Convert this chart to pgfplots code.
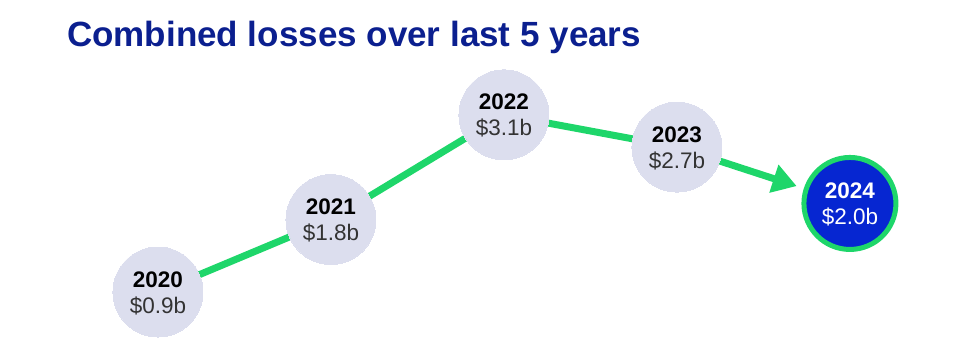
\documentclass[border=0pt]{standalone}
\usepackage{pgfplots}
\pgfplotsset{compat=1.18}
\usepackage{pgfplotstable}
\usepackage{fontspec}
\setmainfont{Liberation Sans}
\usetikzlibrary{arrows.meta}
\definecolor{titleblue}{HTML}{0B1F8F}
\definecolor{circfill}{HTML}{DCDEEE}
\definecolor{lgreen}{HTML}{1ED66A}
\definecolor{hiblue}{HTML}{0626D1}
\definecolor{valgray}{HTML}{333333}

\pgfplotstableread{
x y year
0 0.9 2020
1 1.8 2021
2 3.1 2022
3 2.7 2023
4 2.0 2024
}\losses
\pgfplotstableread{
x y year
0 0.9 2020
1 1.8 2021
2 3.1 2022
3 2.7 2023
}\past
\pgfplotstableread{
x y year
4 2.0 2024
}\latest

\begin{document}
\begin{tikzpicture}
\begin{axis}[at={(0,0)}, anchor=south west, scale only axis,
  width=975pt, height=345pt, hide axis,
  xmin=-0.913, xmax=4.723, ymin=0.242, ymax=4.527, clip=false,
  /pgf/number format/assume math mode=true]
\addplot[lgreen, line width=7pt, -{Triangle[length=24pt,width=28pt]}, shorten >=56pt]
  table[x=x,y=y] {\losses};
\addplot[circfill, only marks, mark=*, mark size=45pt, mark options={fill=circfill, draw=circfill, line width=0pt},
  point meta=explicit symbolic, visualization depends on={y \as \val},
  nodes near coords={\textbf{\pgfplotspointmeta}\\{\color{valgray}\$\pgfmathprintnumber[fixed,fixed zerofill,precision=1]{\val}b}},
  every node near coord/.append style={anchor=center, align=center, text=black, yshift=-1pt,
    font=\fontsize{22.5}{26}\selectfont}]
  table[x=x,y=y,meta=year] {\past};
\addplot[hiblue, only marks, mark=*, mark size=46pt, mark options={fill=hiblue, draw=lgreen, line width=5pt},
  point meta=explicit symbolic, visualization depends on={y \as \val},
  nodes near coords={\textbf{\pgfplotspointmeta}\\\$\pgfmathprintnumber[fixed,fixed zerofill,precision=1]{\val}b},
  every node near coord/.append style={anchor=center, align=center, text=white, yshift=-1pt,
    font=\fontsize{22.5}{26}\selectfont}]
  table[x=x,y=y,meta=year] {\latest};
\node[anchor=base west, inner sep=0pt, text=titleblue, font=\fontsize{35}{40}\selectfont\bfseries]
  at (rel axis cs:0.0687,0.866) {Combined losses over last 5 years};
\end{axis}
\pgfresetboundingbox
\path (0,0) rectangle (975pt,345pt);
\end{tikzpicture}
\end{document}
